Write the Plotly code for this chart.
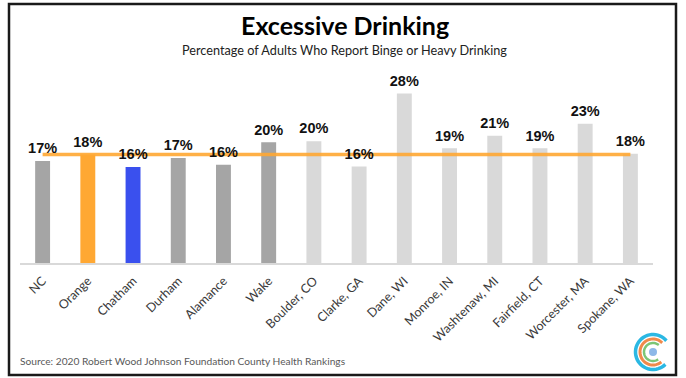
import math
import plotly.graph_objects as go

categories = ["NC", "Orange", "Chatham", "Durham", "Alamance", "Wake", "Boulder, CO",
              "Clarke, GA", "Dane, WI", "Monroe, IN", "Washtenaw, MI", "Fairfield, CT",
              "Worcester, MA", "Spokane, WA"]
values = [16.9, 18.0, 15.9, 17.4, 16.3, 20.0, 20.2, 16.0, 28.1, 19.0, 21.1, 19.0, 23.1, 18.1]
labels = ["17%", "18%", "16%", "17%", "16%", "20%", "20%", "16%", "28%", "19%", "21%", "19%", "23%", "18%"]
reference_value = 18.0  # Orange county level

DARK = "#A5A5A5"
LIGHT = "#D9D9D9"
colors = [DARK, "#FFA833", "#3A50EE", DARK, DARK, DARK] + [LIGHT] * 8

W, H = 686, 378
ML, MR, MT, MB = 20, 33, 82, 115
PW, PH = W - ML - MR, H - MT - MB


def px(x, y):
    return (x - ML) / PW, (H - MB - y) / PH


fig = go.Figure()
fig.add_trace(go.Bar(x=categories, y=values, marker=dict(color=colors, line=dict(width=0)),
                     width=0.33, hoverinfo="skip"))
fig.add_trace(go.Scatter(x=categories, y=[reference_value] * len(categories), mode="lines",
                         line=dict(color="#FFA833", width=3.5), opacity=0.9, hoverinfo="skip"))
fig.add_trace(go.Scatter(x=categories, y=values, mode="markers+text", text=labels,
                         textposition="top center",
                         marker=dict(size=5, color="rgba(0,0,0,0)"),
                         textfont=dict(family="Liberation Sans", size=14.5, color="#111111", weight="bold"),
                         cliponaxis=False, hoverinfo="skip"))

shapes = []
# frame
x0, y0 = px(9, 4)
x1, y1 = px(676, 375)
shapes.append(dict(type="rect", xref="paper", yref="paper", x0=x0, y0=y1, x1=x1, y1=y0,
                   line=dict(color="#1a1a1a", width=2.5), layer="above"))


def arc(cx, cy, r, a0, a1, n=40):
    pts = []
    for i in range(n + 1):
        a = math.radians(a0 + (a1 - a0) * i / n)
        pts.append(px(cx + r * math.cos(a), cy - r * math.sin(a)))
    return "M " + " L ".join(f"{p[0]:.5f},{p[1]:.5f}" for p in pts)


cx, cy = 653, 352
for r, col, w, a0, a1 in [(17.5, "#2BB8E3", 3.5, 40, 315),
                          (13, "#F08A4B", 3, 45, 310),
                          (9, "#7CC576", 2.5, 50, 305)]:
    shapes.append(dict(type="path", xref="paper", yref="paper", path=arc(cx, cy, r, a0, a1),
                       line=dict(color=col, width=w)))
bx0, by0 = px(cx - 4, cy - 4)
bx1, by1 = px(cx + 4, cy + 4)
shapes.append(dict(type="circle", xref="paper", yref="paper", x0=bx0, y0=by1, x1=bx1, y1=by0,
                   fillcolor="#8DB8E8", line=dict(width=0)))

annotations = []
tx, ty = px(344.5, 25)
annotations.append(dict(text="<b>Excessive Drinking</b>", x=tx, y=ty, xref="paper", yref="paper",
                        showarrow=False, xanchor="center", yanchor="middle",
                        font=dict(family="Lato", size=25, color="#000000")))
sx, sy = px(344.5, 50)
annotations.append(dict(text="Percentage of Adults Who Report Binge or Heavy Drinking", x=sx, y=sy,
                        xref="paper", yref="paper", showarrow=False, xanchor="center", yanchor="middle",
                        font=dict(family="Lato", size=12.7, color="#222222")))
ox, oy = px(18, 361)
annotations.append(dict(text="Source: 2020 Robert Wood Johnson Foundation County Health Rankings",
                        x=ox, y=oy, xref="paper", yref="paper", showarrow=False,
                        xanchor="left", yanchor="middle",
                        font=dict(family="Lato", size=10.2, color="#595959")))

fig.update_layout(
    template="none",
    width=W, height=H,
    margin=dict(l=ML, r=MR, t=MT, b=MB, pad=0, autoexpand=False),
    paper_bgcolor="white", plot_bgcolor="white",
    showlegend=False,
    bargap=0.67,
    shapes=shapes,
    annotations=annotations,
    xaxis=dict(range=[-0.5, len(categories) - 0.5], autorange=False,
               showgrid=False, showline=True, linecolor="#D9D9D9", linewidth=1.5, automargin=False,
               tickangle=-45, ticks="", tickfont=dict(family="Lato", size=12.5, color="#3a3a3a"),
               ticklabelstandoff=4, fixedrange=True),
    yaxis=dict(range=[0, 30], visible=False, showgrid=False, zeroline=False, fixedrange=True,
               automargin=False),
)

fig.write_html("out.html", config={"displayModeBar": False},
               post_script="document.body.style.margin='0';document.body.style.overflow='hidden';")
